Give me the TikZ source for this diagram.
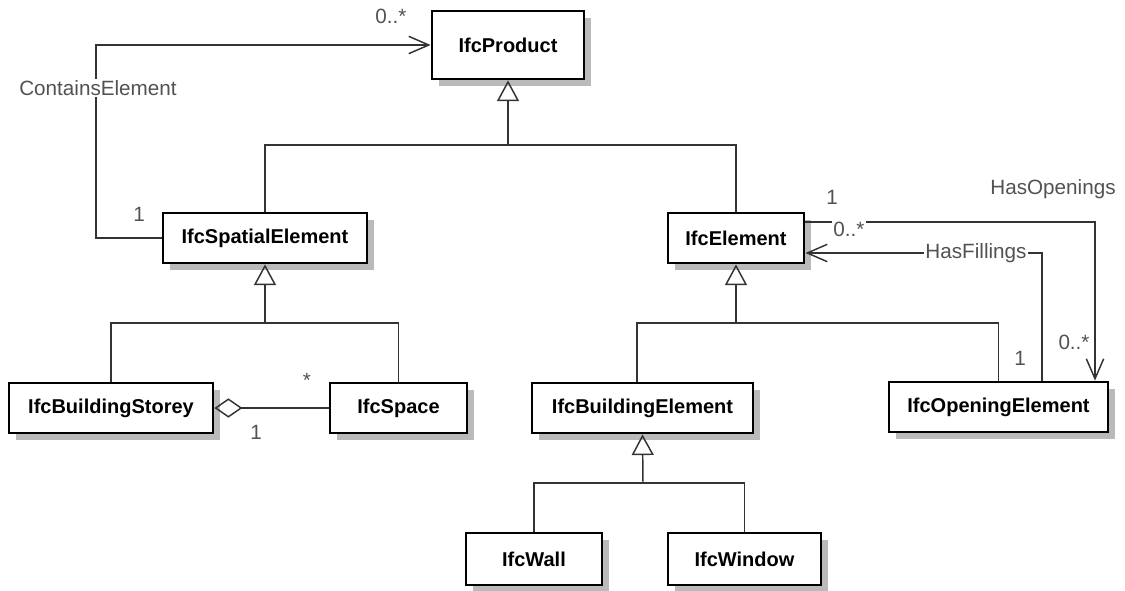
\documentclass[tikz,border=0pt]{standalone}
\usepackage{fontspec}
\setmainfont{Liberation Sans}
\usetikzlibrary{arrows.meta,shadows}
\begin{document}
\begin{tikzpicture}[x=0.75pt,y=-0.75pt,
  cls/.style={draw=black, line width=2.1pt, fill=white, inner sep=0pt,
    font=\fontsize{15}{18}\selectfont\bfseries,
    drop shadow={shadow xshift=5.5pt, shadow yshift=-5.5pt, fill=black!27, opacity=1}},
  conn/.style={draw=black!80, line width=1.1pt},
  gen/.style={conn, -{Triangle[open, length=15.5pt, width=16.5pt, line width=1.1pt]}},
  assoc/.style={conn, -{Straight Barb[length=15pt, width=13pt, line width=1.1pt]}},
  agg/.style={conn, {Diamond[open, length=21pt, width=14.5pt, line width=1.1pt]}-},
  lbl/.style={text=black!68, inner sep=1pt, font=\fontsize{15.5}{18}\selectfont},
  lblw/.style={lbl, fill=white}]
\useasboundingbox (0,0) rectangle (1125,590);
% classes
\node[cls, minimum width=114pt, minimum height=51pt] (prod) at (508,45) {IfcProduct};
\node[cls, minimum width=153pt, minimum height=37.5pt] (spat) at (265,238) {IfcSpatialElement};
\node[cls, minimum width=102pt, minimum height=37.5pt] (elem) at (736,238) {IfcElement};
\node[cls, minimum width=153pt, minimum height=37.5pt] (stor) at (111,408) {IfcBuildingStorey};
\node[cls, minimum width=102.75pt, minimum height=37.5pt] (space) at (398.5,408) {IfcSpace};
\node[cls, minimum width=165.75pt, minimum height=37.5pt] (bldg) at (642.5,408) {IfcBuildingElement};
\node[cls, minimum width=164.25pt, minimum height=37.5pt] (open) at (998.5,407) {IfcOpeningElement};
\node[cls, minimum width=102pt, minimum height=39pt] (wall) at (534,559) {IfcWall};
\node[cls, minimum width=114.75pt, minimum height=39pt] (window) at (744.5,559) {IfcWindow};
% generalizations
\coordinate (gP) at (508,145);
\draw[gen] (gP) -- (prod.south);
\draw[conn] (spat.north) |- (gP) -| (elem.north);
\coordinate (gS) at (265,323);
\draw[gen] (gS) -- (spat.south);
\draw[conn] (stor.north) |- (gS) -| (space.north);
\coordinate (gE) at (736,323);
\draw[gen] (gE) -- (elem.south);
\draw[conn] ([xshift=-4pt]bldg.north) |- (gE) -| (open.north);
\coordinate (gB) at (643,483);
\draw[gen] (gB) -- (bldg.south);
\draw[conn] (wall.north) |- (gB) -| (window.north);
% ContainsElement
\coordinate (ceX) at (96,0);
\draw[assoc] (spat.west) -- (spat.west -| ceX) |- (prod.west);
\node[lblw] (ceL) at (98,88) {ContainsElement};
\node[lbl] (ce0) at (391,16) {0..*};
\node[lbl] (ce1) at (139,214) {1};
% aggregation
\draw[agg] (stor.east) -- (space.west);
\node[lbl] (agS) at (307,380) {*};
\node[lbl] (ag1) at (256,432) {1};
% HasOpenings
\coordinate (hoY) at (0,222);
\coordinate (hoX) at (1095,0);
\draw[assoc] (elem.east |- hoY) -- (hoX |- hoY) -- (hoX |- open.north);
\node[lbl] (ho1) at (832,197) {1};
\node[lblw] (ho0) at (849,229) {0..*};
\node[lbl] (hoL) at (1053,189) {HasOpenings};
\node[lbl] (ho0b) at (1074,342) {0..*};
% HasFillings
\coordinate (hfY) at (0,253);
\coordinate (hfX) at (1042,0);
\draw[assoc] (hfX |- open.north) -- (hfX |- hfY) -- (elem.east |- hfY);
\node[lblw] (hfL) at (976,253) {HasFillings};
\node[lbl] (hf1) at (1020,358) {1};
\end{tikzpicture}
\end{document}
